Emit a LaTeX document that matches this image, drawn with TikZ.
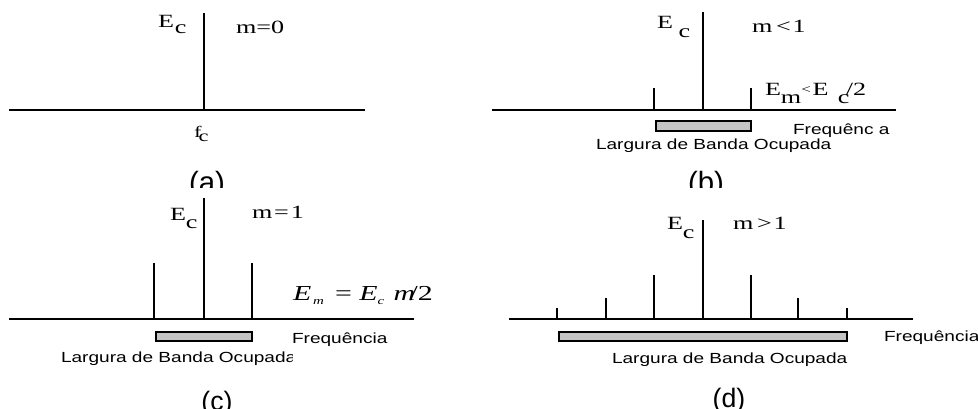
\documentclass[tikz,border=0pt]{standalone}
\usepackage{fontspec}
\usepackage{graphicx}
\setmainfont{Liberation Serif}
\newfontfamily\sansf{Liberation Sans}
\definecolor{barg}{HTML}{C4C4C4}
\newcommand\wsl[1]{\scalebox{1.3}[1]{#1}}
\newcommand\wsr[1]{\scalebox{1.4}[1]{#1}}
\begin{document}
\begin{tikzpicture}[x=0.75pt,y=-0.75pt,line width=1.5pt,
  sl/.style={font=\sansf\fontsize{11}{13}\selectfont,inner sep=0pt,anchor=base west},
  sr/.style={font=\fontsize{14}{16}\selectfont,inner sep=0pt,anchor=base west},
  se/.style={font=\fontsize{14}{16}\selectfont,inner sep=0pt,anchor=base west},
  bar/.style={fill=barg,draw=black,line width=1pt},
  capt/.style={font=\sansf\fontsize{22}{26}\selectfont,inner sep=0pt,anchor=base},
  captb/.style={font=\sansf\fontsize{20}{24}\selectfont,inner sep=0pt,anchor=base}]
\useasboundingbox (0,0) rectangle (978,408);
% ---------------- (a)
\coordinate (aL) at (9,110); \coordinate (aR) at (365,110);
\draw (aL) -- (aR);
\coordinate (a0) at (204,110); \coordinate (a1) at (204,13);
\draw (a0) -- (a1);
\node[se] (aE) at (157,27) {\wsr{E\kern0.5pt\raisebox{-5pt}{c}}};
\node[sr] (am) at (235,33) {\wsr{m=0}};
\node[se,font=\fontsize{12}{14}\selectfont] (af) at (193,137) {\wsr{f\kern-1.5pt\raisebox{-3pt}{c}}};
\begin{scope}
\clip (0,0) rectangle (978,187);
\node[capt] (acap) at (207,192) {(a)};
\node[capt] (bcap) at (706,192) {(b)};
\end{scope}
% ---------------- (b)
\coordinate (bL) at (492,110); \coordinate (bR) at (896,110);
\draw (bL) -- (bR);
\coordinate (b0) at (703,110); \coordinate (b1) at (703,12);
\coordinate (bl0) at (654,110); \coordinate (bl1) at (654,88);
\coordinate (br0) at (751,110); \coordinate (br1) at (751,88);
\draw (b0) -- (b1) (bl0) -- (bl1) (br0) -- (br1);
\node[se] (bE) at (656,28) {\wsr{E\kern3pt\raisebox{-7pt}{c}}};
\node[sr] (bm) at (751,32) {\wsr{m\kern2pt<\kern1pt1}};
\node[sr] (bEm) at (764,95) {\wsr{E\raisebox{-6pt}{m}\raisebox{1pt}{\small<}\kern1pt E\kern5pt\raisebox{-6pt}{c}\kern-2pt/2}};
\draw[bar] (656,121) rectangle (751,131);
\node[sl] (bfreq) at (792,134) {\wsl{Frequênc a}};
\node[sl] (blarg) at (595,149) {\wsl{Largura de Banda Ocupada}};
% ---------------- (c)
\coordinate (cL) at (9,319); \coordinate (cR) at (414,319);
\draw (cL) -- (cR);
\coordinate (c0) at (204,319); \coordinate (c1) at (204,198);
\coordinate (cl0) at (154,319); \coordinate (cl1) at (154,263);
\coordinate (cr0) at (252,319); \coordinate (cr1) at (252,263);
\draw (c0) -- (c1) (cl0) -- (cl1) (cr0) -- (cr1);
\node[se] (cE) at (169,220) {\wsr{E\raisebox{-6pt}{c}}};
\node[sr] (cm) at (251,218) {\wsr{m\kern1pt=\kern1pt1}};
\node[sr,font=\fontsize{16}{18}\selectfont] (cEm) at (292,300) {\wsr{\textit{E}\kern1pt\raisebox{-3pt}{\footnotesize\textit{m}}\kern6pt=\kern4pt\textit{E}\raisebox{-3pt}{\footnotesize\textit{c}}\kern5pt\textit{m}\kern-3pt/2}};
\draw[bar] (156,332) rectangle (252,341);
\node[sl] (cfreq) at (291,343) {\wsl{Frequência}};
\begin{scope}
\clip (0,204) rectangle (292,408);
\node[sl] (clarg) at (60,362) {\wsl{Largura de Banda Ocupada}};
\end{scope}
\node[captb] (ccap) at (217,410) {(c)};
% ---------------- (d)
\coordinate (dL) at (509,319); \coordinate (dR) at (913,319);
\draw (dL) -- (dR);
\foreach \x/\t [count=\i] in {557/308,606/298,654/275,703/220,751/275,798/298,847/308}{
  \coordinate (d\i a) at (\x,319); \coordinate (d\i b) at (\x,\t);
  \draw (d\i a) -- (d\i b);
}
\node[se] (dE) at (666,229) {\wsr{E\raisebox{-7pt}{c}}};
\node[sr] (dm) at (732,229) {\wsr{m\kern2pt>\kern1pt1}};
\draw[bar] (559,332) rectangle (847,341);
\node[sl] (dfreq) at (883,341) {\wsl{Frequência}};
\node[sl] (dlarg) at (611,363) {\wsl{Largura de Banda Ocupada}};
\node[captb] (dcap) at (729,407) {(d)};
\end{tikzpicture}
\end{document}
